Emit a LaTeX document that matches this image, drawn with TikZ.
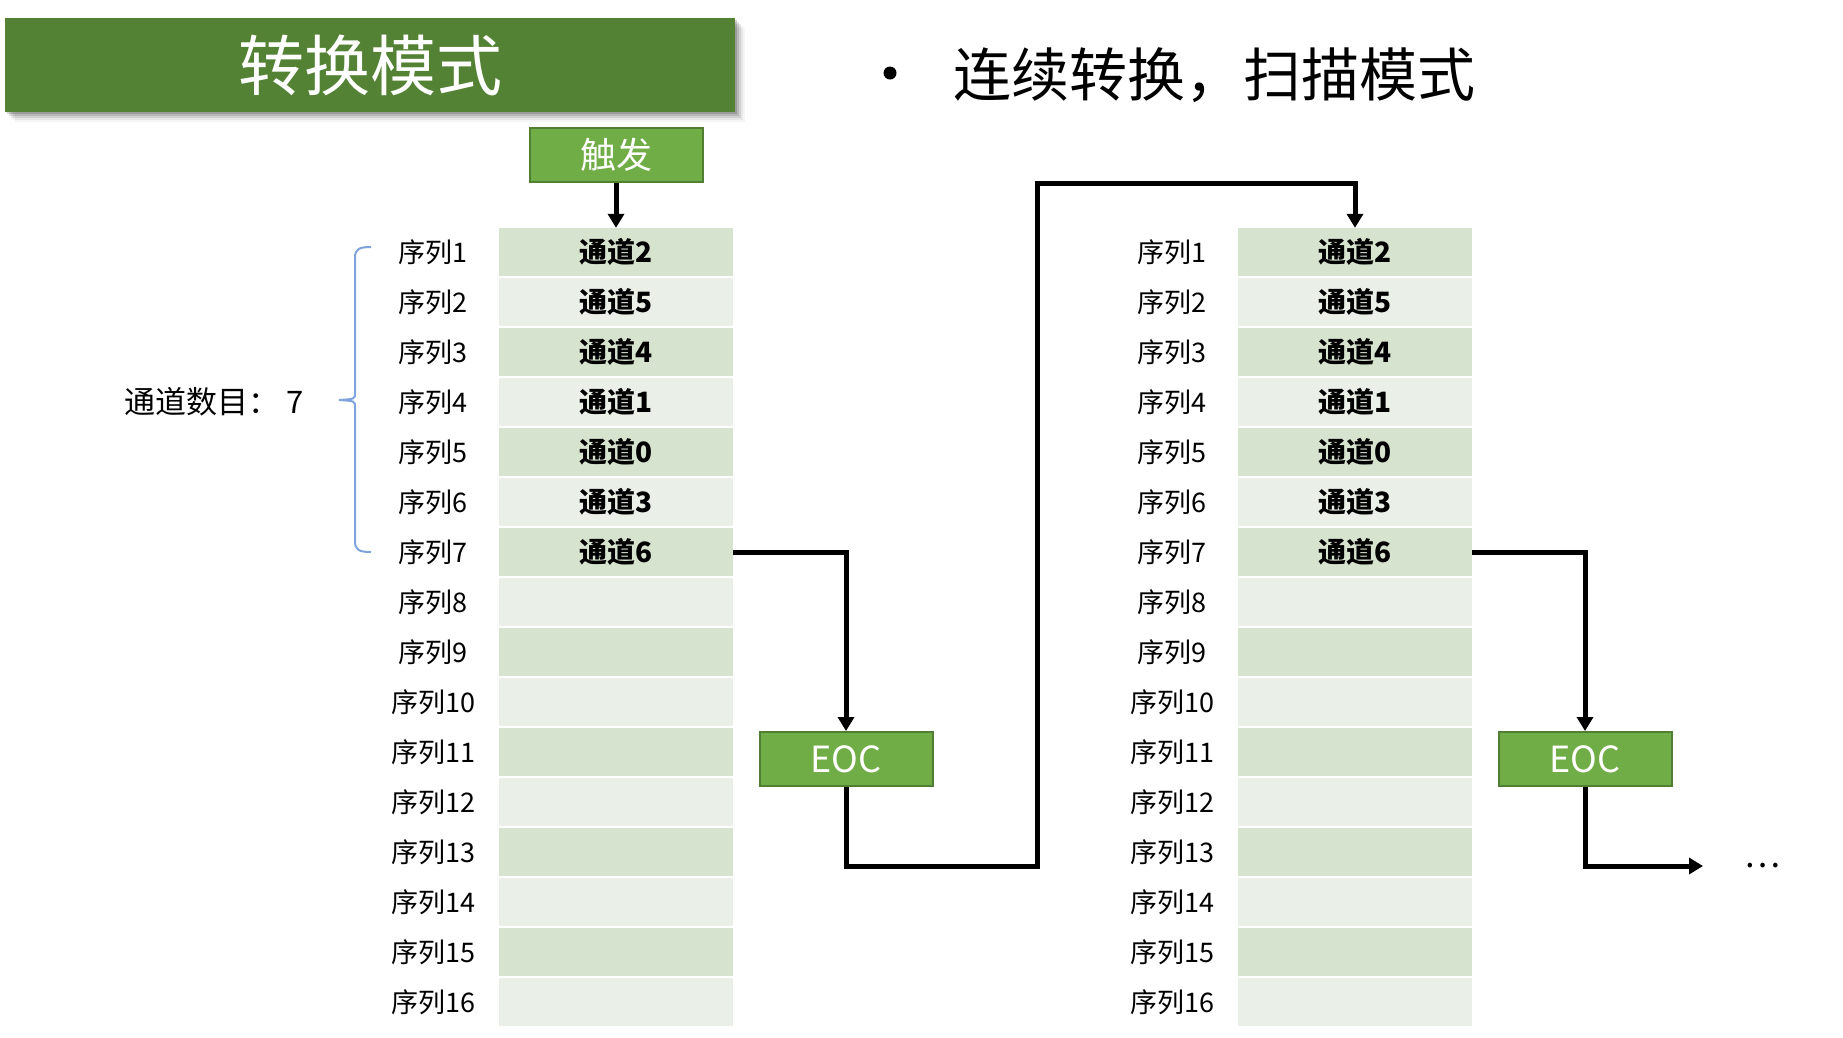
\documentclass[tikz,border=0pt]{standalone}
\usepackage{xcolor}
\usepackage{fontspec}
\setmainfont{Noto Sans CJK SC}
\usepackage{tikz}
\usetikzlibrary{arrows.meta}

\definecolor{titlegreen}{HTML}{548235}
\definecolor{boxgreen}{HTML}{70AD47}
\definecolor{boxedge}{HTML}{507E32}
\definecolor{banddark}{HTML}{D6E3CF}
\definecolor{bandlight}{HTML}{EAEFE8}
\definecolor{bracecol}{HTML}{7FA3DC}

\begin{document}
\begin{tikzpicture}[x=1pt,y=-1pt,
    cell/.style={minimum width=234pt, minimum height=48pt, inner sep=0pt,
      font=\fontsize{28}{30}\selectfont\bfseries},
    seqlabel/.style={inner sep=0pt, font=\fontsize{27}{30}\selectfont},
    greenbox/.style={fill=boxgreen, draw=boxedge, line width=2pt, text=white,
      minimum width=173pt, minimum height=54pt, inner sep=0pt,
      font=\fontsize{36}{38}\selectfont},
    conn/.style={line width=5pt, -{Triangle[width=16pt,length=14pt]}}]
             \useasboundingbox (0,0) rectangle (1843,1037);

             % title bar with its shadow
             \foreach \s/\o in {2/.16,4/.12,6/.09,8/.06,10/.04}
               \fill[black, opacity=\o] (5+\s,18+\s) rectangle (735+\s,112+\s);
             \node[fill=titlegreen, minimum width=730pt, minimum height=94pt, inner sep=0pt,
               text=white, font=\fontsize{66}{68}\selectfont] (title) at (370,65) {转换模式};

             \fill (890,73) circle (6.5);
             \node[anchor=west, inner sep=0pt, font=\fontsize{58}{60}\selectfont] (mode) at (953,75) {连续转换，扫描模式};

             \node[greenbox] (trigger) at (616,155) {触发};

             % the two sequence tables
             \foreach \side/\dx in {l/0,r/739} {
               \foreach \i in {1,...,16} {
                 \ifodd\i \def\band{banddark}\else \def\band{bandlight}\fi
                 \node[seqlabel] (\side lab\i) at (433+\dx,202+50*\i) {序列\i};
                 \node[cell, fill=\band] (\side\i) at (616+\dx,202+50*\i)
                   {\ifnum\i<8 \pgfmathtruncatemacro\ch{{2,5,4,1,0,3,6}[\i-1]}通道\ch\fi};
               }
             }

             % brace and channel count
             \draw[bracecol, line width=2pt] (371,247) .. controls (359,247) and (355,249) .. (355,258)
               -- (355,393) .. controls (355,399) .. (339,400) .. controls (355,401) .. (355,407)
               -- (355,541) .. controls (355,550) and (359,552) .. (371,552);
             \node[anchor=west, inner sep=0pt, font=\fontsize{31}{33}\selectfont] (count) at (124,402) {通道数目：\ 7};

             \node[greenbox] (eocL) at (846,759) {EOC};
             \node[greenbox] (eocR) at (1585,759) {EOC};
             \node[font=\fontsize{34}{36}\selectfont] (more) at (1762,866) {…};

             \coordinate (loopA) at (1037,866);
             \coordinate (loopB) at (1037,183);
             \coordinate (moreIn) at (1703,866);

             \draw[conn] (trigger.south) -- (l1.north);
             \draw[conn] (l7.east) -| (eocL.north);
             \draw[conn] (eocL.south) |- (loopA) -- (loopB) -| (r1.north);
             \draw[conn] (r7.east) -| (eocR.north);
             \draw[conn] (eocR.south) |- (moreIn);
\end{tikzpicture}
\end{document}
